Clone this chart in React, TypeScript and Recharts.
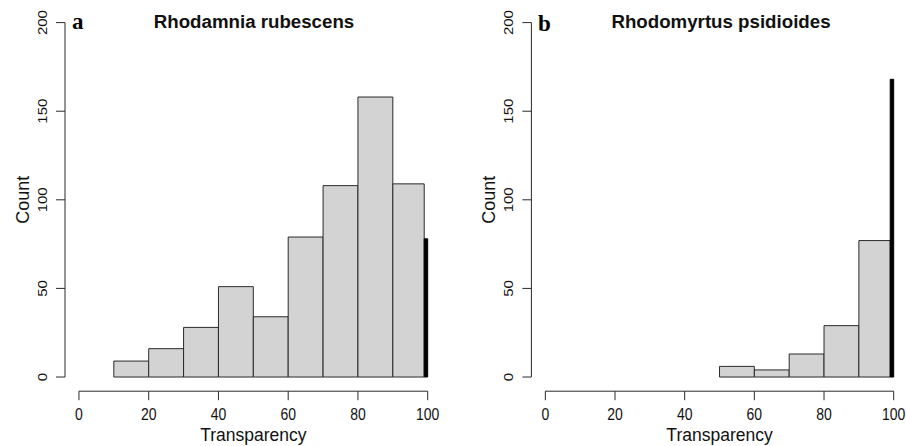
import React from "react";
import { ComposedChart, XAxis, YAxis, ReferenceArea, ReferenceLine } from "recharts";

// histogram bins (transparency %), last bin is the 100% class drawn in black
const binEdges = [0, 10, 20, 30, 40, 50, 60, 70, 80, 90, 99, 100];
const rubescensCounts = [0, 9, 16, 28, 51, 34, 79, 108, 158, 109, 78];
const psidioidesCounts = [0, 0, 0, 0, 0, 6, 4, 13, 29, 77, 168];
const xTicks = [0, 20, 40, 60, 80, 100];
const yTicks = [0, 50, 100, 150, 200];

const ink = "#2a2a2a";
const barFill = "#d3d3d3";
const sans = "'Liberation Sans', Arial, sans-serif";
const serif = "'Liberation Serif', 'Times New Roman', serif";

const X_DOMAIN: [number, number] = [-4, 100];
const Y_DOMAIN: [number, number] = [-8, 200];

function makeBins(counts: number[]) {
  return counts
    .map((count, i) => ({
      start: binEdges[i],
      end: binEdges[i + 1],
      mid: (binEdges[i] + binEdges[i + 1]) / 2,
      count,
      last: i === counts.length - 1
    }))
    .filter((b) => b.count > 0);
}

const XTick = (props: any) => {
  const { x, y, payload } = props;
  return (
    <text
      transform={`translate(${x},${y + 18}) scale(1,1.2)`}
      textAnchor="middle"
      fontFamily={sans}
      fontSize={14}
      fill="#111"
    >
      {payload.value}
    </text>
  );
};

const YTick = (props: any) => {
  const { x, y, payload } = props;
  return (
    <text
      transform={`translate(${x - 7},${y}) rotate(-90) scale(1,0.85)`}
      textAnchor="middle"
      fontFamily={sans}
      fontSize={15}
      fill="#111"
    >
      {payload.value}
    </text>
  );
};

interface PanelProps {
  counts: number[];
  yAxisWidth: number;
  marginRight: number;
}

function Panel({ counts, yAxisWidth, marginRight }: PanelProps) {
  const bins = makeBins(counts);
  return (
    <ComposedChart
      width={453}
      height={446}
      data={bins}
      margin={{ top: 22.6, right: marginRight, bottom: 14.8, left: 0 }}
    >
      <XAxis
        type="number"
        dataKey="mid"
        domain={X_DOMAIN}
        ticks={xTicks}
        interval={0}
        allowDataOverflow
        axisLine={false}
        tickLine={{ stroke: ink, strokeWidth: 1 }}
        tickSize={9}
        height={40}
        tick={(p: any) => <XTick {...p} />}
        label={{
          content: (p: any) => {
            const vb = p.viewBox;
            return (
              <text
                x={vb.x + (vb.width * 54) / 104}
                y={vb.y + 49.3}
                textAnchor="middle"
                fontFamily={sans}
                fontSize={17.5}
                fill="#111"
              >
                Transparency
              </text>
            );
          }
        }}
      />
      <YAxis
        type="number"
        domain={Y_DOMAIN}
        ticks={yTicks}
        interval={0}
        allowDataOverflow
        axisLine={false}
        tickLine={{ stroke: ink, strokeWidth: 1 }}
        tickSize={9}
        width={yAxisWidth}
        tick={(p: any) => <YTick {...p} />}
        label={{
          content: (p: any) => {
            const vb = p.viewBox;
            const ax = vb.x + vb.width;
            const cy = vb.y + (vb.height * 100) / 208;
            return (
              <text
                transform={`translate(${ax - 36.5},${cy}) rotate(-90)`}
                textAnchor="middle"
                fontFamily={sans}
                fontSize={18}
                fill="#111"
              >
                Count
              </text>
            );
          }
        }}
      />
      {bins.map((b) => (
        <ReferenceArea
          key={b.start}
          x1={b.start}
          x2={b.end}
          y1={0}
          y2={b.count}
          fill={b.last ? "#000" : barFill}
          fillOpacity={1}
          stroke={b.last ? "#000" : ink}
          strokeWidth={1}
          ifOverflow="visible"
        />
      ))}
      <ReferenceLine
        segment={[{ x: 0, y: -8 }, { x: 100, y: -8 }]}
        stroke={ink}
        strokeWidth={1}
        ifOverflow="visible"
      />
      <ReferenceLine
        segment={[{ x: -4, y: 0 }, { x: -4, y: 200 }]}
        stroke={ink}
        strokeWidth={1}
        ifOverflow="visible"
      />
    </ComposedChart>
  );
}

export default function App() {
  return (
    <div style={{ position: "absolute", left: 0, top: 0, width: 906, height: 446, background: "#fff", overflow: "hidden" }}>
      <div style={{ position: "absolute", left: 0, top: 0 }}>
        <Panel counts={rubescensCounts} yAxisWidth={65} marginRight={25.3} />
      </div>
      <div style={{ position: "absolute", left: 453, top: 0 }}>
        <Panel counts={psidioidesCounts} yAxisWidth={78.4} marginRight={12.3} />
      </div>
      <svg width={906} height={446} style={{ position: "absolute", left: 0, top: 0, pointerEvents: "none" }}>
        <text x={72} y={29} fontFamily={serif} fontWeight="bold" fontSize={23} fill="#000">a</text>
        <text x={254} y={27.5} textAnchor="middle" fontFamily={sans} fontWeight="bold" fontSize={18.7} fill="#111">
          Rhodamnia rubescens
        </text>
        <text x={538} y={31} fontFamily={serif} fontWeight="bold" fontSize={23} fill="#000">b</text>
        <text x={721} y={27.5} textAnchor="middle" fontFamily={sans} fontWeight="bold" fontSize={18.7} fill="#111">
          Rhodomyrtus psidioides
        </text>
      </svg>
    </div>
  );
}
